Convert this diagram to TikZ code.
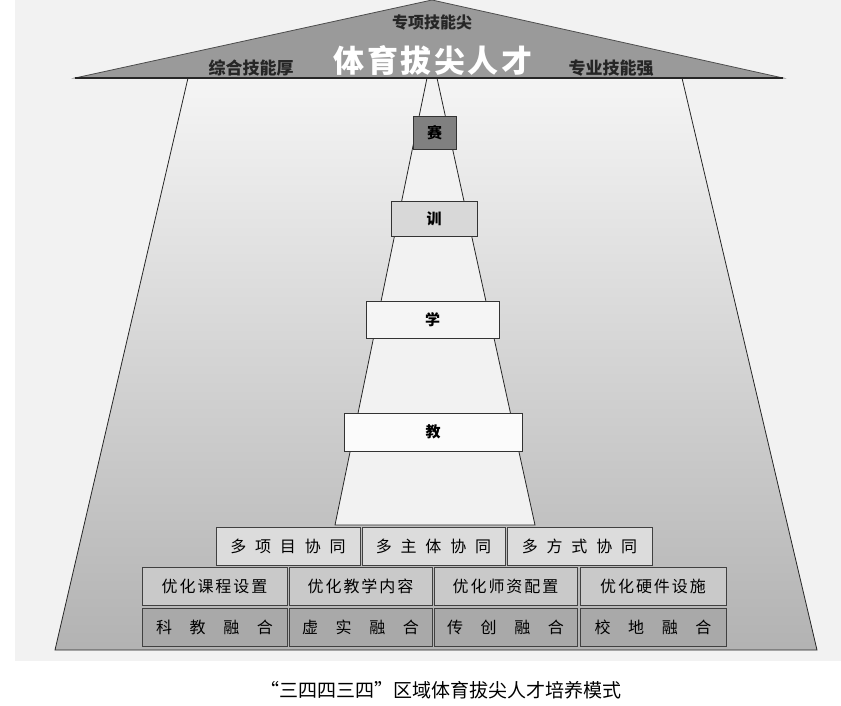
\documentclass[tikz,border=0pt]{standalone}
\usepackage{fontspec}
\setmainfont{Noto Sans CJK SC}
\newfontfamily\spreadA[LetterSpace=55]{Noto Sans CJK SC}
\newfontfamily\spreadB[LetterSpace=12]{Noto Sans CJK SC}
\newfontfamily\spreadC[LetterSpace=110]{Noto Sans CJK SC}
\newfontfamily\spreadT[LetterSpace=8]{Noto Sans CJK SC}
\definecolor{canvas}{HTML}{F2F2F2}
\definecolor{roofgray}{HTML}{9A9A9A}
\definecolor{saigray}{HTML}{808080}
\definecolor{xungray}{HTML}{D8D8D8}
\definecolor{rowone}{HTML}{DCDCDC}
\definecolor{rowtwo}{HTML}{C9C9C9}
\definecolor{rowthree}{HTML}{A9A9A9}
\tikzset{
  stage/.style={draw=black!80,line width=0.8pt,font=\bfseries\fontsize{15}{15}\selectfont,inner sep=0pt},
  rowbox/.style={draw=black!75,line width=0.8pt,minimum height=38pt,inner sep=0pt},
  synergy/.style={rowbox,fill=rowone,font=\spreadA\fontsize{16}{16}\selectfont},
  optimise/.style={rowbox,fill=rowtwo,font=\spreadB\fontsize{16}{16}\selectfont},
  merge/.style={rowbox,fill=rowthree,font=\spreadC\fontsize{16}{16}\selectfont}
}
\begin{document}
\begin{tikzpicture}[x=1pt,y=-1pt]
\useasboundingbox (0,0) rectangle (841,706);
% Background
\fill[white] (0,0) rectangle (841,706);
\fill[canvas] (15,0) rectangle (841,661);

% Outer trapezoid
\shade[top color=gray!8,bottom color=gray!60] (188,78) -- (682,78) -- (817,650) -- (55,650) -- cycle;
\draw[black!85,line width=0.8pt] (188,78) -- (55,650) -- (817,650) -- (682,78);

% Tower
\filldraw[fill=gray!10,draw=black!85,line width=0.8pt] (427,78) -- (437,78) -- (535,525) -- (335,525) -- cycle;

% Roof
\filldraw[fill=roofgray,draw=black!70,line width=0.8pt] (432,0) -- (783,78) -- (75,78) -- cycle;
\draw[black!85,line width=1.6pt] (75,78) -- (783,78);
\node[font=\bfseries\fontsize{16}{16}\selectfont,black!85] (jian) at (432,22) {专项技能尖};
\node[font=\bfseries\fontsize{17}{17}\selectfont,black!85] (hou) at (251,68) {综合技能厚};
\node[font=\bfseries\fontsize{17}{17}\selectfont,black!85] (qiang) at (611,68) {专业技能强};
\node[white,font=\spreadT\bfseries\fontsize{31}{31}\selectfont] (rencai) at (433,60) {体育拔尖人才};

% Stages
\node[stage,fill=saigray,minimum width=43pt,minimum height=33pt] (sai) at (434.5,132.5) {赛};
\node[stage,fill=xungray,minimum width=86pt,minimum height=35pt] (xun) at (434,218.5) {训};
\node[stage,fill=gray!8,minimum width=133pt,minimum height=37pt] (xue) at (432.5,319.5) {学};
\node[stage,fill=gray!3,minimum width=178pt,minimum height=38pt] (jiao) at (433,432) {教};

% Three synergies
\node[synergy,minimum width=144pt] (xiangmu) at (288,546) {多项目协同};
\node[synergy,minimum width=143pt] (zhuti) at (433.5,546) {多主体协同};
\node[synergy,minimum width=145pt] (fangshi) at (579.5,546) {多方式协同};

% Four optimisations
\node[optimise,minimum width=145pt] (kecheng) at (214.5,586.5) {优化课程设置};
\node[optimise,minimum width=143pt] (neirong) at (360.5,586.5) {优化教学内容};
\node[optimise,minimum width=143pt] (shizi) at (505.5,586.5) {优化师资配置};
\node[optimise,minimum width=146pt] (yingjian) at (653,586.5) {优化硬件设施};

% Four integrations
\node[merge,minimum width=145pt] (kejiao) at (214.5,627.5) {科教融合};
\node[merge,minimum width=143pt] (xushi) at (360.5,627.5) {虚实融合};
\node[merge,minimum width=143pt] (chuanchuang) at (505.5,627.5) {传创融合};
\node[merge,minimum width=146pt] (xiaodi) at (653,627.5) {校地融合};

% Caption
\node[font=\fontsize{19}{19}\selectfont] (caption) at (441,690) {“三四四三四”区域体育拔尖人才培养模式};
\end{tikzpicture}
\end{document}
